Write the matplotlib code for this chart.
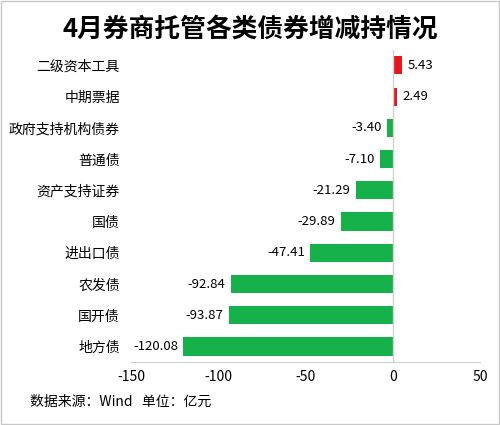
import matplotlib
matplotlib.use("Agg")
import matplotlib.pyplot as plt

plt.rcParams['font.family'] = ['Noto Sans CJK SC', 'DejaVu Sans']

categories = ["二级资本工具", "中期票据", "政府支持机构债券", "普通债", "资产支持证券",
              "国债", "进出口债", "农发债", "国开债", "地方债"]
values = [5.43, 2.49, -3.40, -7.10, -21.29, -29.89, -47.41, -92.84, -93.87, -120.08]
xticks = [-150, -100, -50, 0, 50]

fig = plt.figure(figsize=(5, 4.25), dpi=100)
fig.patches.append(plt.Rectangle((0.002, 0.002), 0.996, 0.996, transform=fig.transFigure,
                                 fill=False, edgecolor='#c8c8c8', lw=1))
ax = fig.add_axes([0.262, 0.148, 0.698, 0.735])
y = list(range(len(categories)))
colors = ['#e8161b' if v > 0 else '#16b14b' for v in values]
ax.barh(y, values, height=0.58, color=colors)
ax.set_ylim(len(categories) - 0.5, -0.5)
ax.set_xlim(-150, 50)
ax.set_xticks(xticks)
ax.set_xticklabels([str(t) for t in xticks], fontsize=10)
ax.set_yticks(y)
ax.set_yticklabels(categories, fontsize=10)
ax.tick_params(axis='y', length=0, pad=8)
ax.tick_params(axis='x', length=0, pad=6)
for s in ['top', 'right', 'left']:
    ax.spines[s].set_visible(False)
ax.spines['bottom'].set_color('#d0d0d0')
ax.axvline(0, color='#d0d0d0', lw=1)
for yi, v in zip(y, values):
    if v > 0:
        ax.text(v + 3, yi, f"{v:.2f}", va='center', ha='left', fontsize=9.5)
    else:
        ax.text(v - 3, yi, f"{v:.2f}", va='center', ha='right', fontsize=9.5)
fig.text(0.5, 0.932, "4月券商托管各类债券增减持情况", ha='center', va='center',
         fontsize=18.5, fontweight='bold')
fig.text(0.06, 0.055, "数据来源：Wind   单位：亿元", ha='left', va='center', fontsize=10)
fig.savefig("out.png", dpi=100)
